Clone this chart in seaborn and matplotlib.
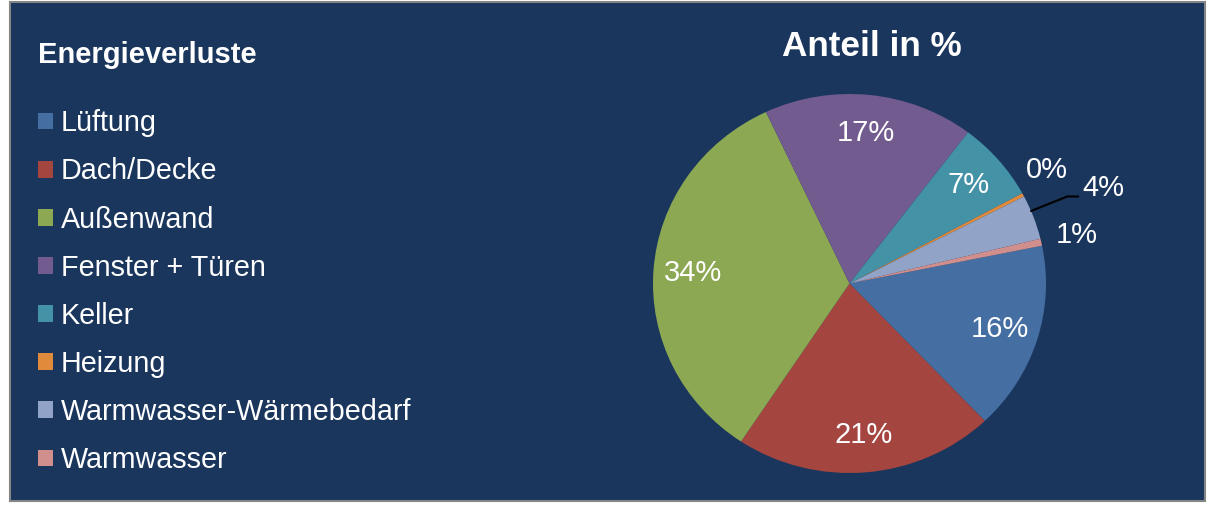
import matplotlib
matplotlib.use("Agg")
import matplotlib.pyplot as plt
from matplotlib.patches import Rectangle
import numpy as np
import seaborn as sns

# ---- data ----
categories = ["Lüftung", "Dach/Decke", "Außenwand", "Fenster + Türen", "Keller",
              "Heizung", "Warmwasser-Wärmebedarf", "Warmwasser"]
shares = [16.1, 21.4, 33.7, 17.3, 6.8, 0.3, 3.8, 0.6]
slice_colors = ["#456FA2", "#A4453F", "#8DA853", "#725B8E", "#4492A6",
                "#E08A3C", "#91A4C8", "#D08E8C"]
legend_title = "Energieverluste"
chart_title = "Anteil in %"

BG = "#1A365D"
W, H = 1208, 507

sns.set_theme(style="white")
plt.rcParams["font.family"] = ["Liberation Sans", "DejaVu Sans"]

fig = plt.figure(figsize=(W / 100, H / 100), dpi=100, facecolor="white")

# chart area with grey border
fig.patches.append(Rectangle((10 / W, 6 / H), (1205 - 10) / W, (505 - 6) / H,
                             transform=fig.transFigure, facecolor=BG,
                             edgecolor="#858585", linewidth=1.5, zorder=-5))

palette = sns.color_palette(slice_colors)

# pie axes
left, right, top, bottom = 653, 1046, 94, 473
ax = fig.add_axes([left / W, (H - bottom) / H, (right - left) / W, (bottom - top) / H])
ax.set_zorder(2)
ax.patch.set_alpha(0)
wedges, texts, autotexts = ax.pie(
    shares, colors=palette, startangle=11.5, counterclock=False,
    autopct="%.0f%%", pctdistance=0.8, radius=1.0,
    wedgeprops=dict(linewidth=0),
    textprops=dict(color="white", fontsize=21))
ax.set_aspect("auto")
ax.set_xlim(-1, 1)
ax.set_ylim(-1, 1)
ax.axis("off")

# small slices: put labels outside
for i in (5, 6, 7):
    w = wedges[i]
    t = autotexts[i]
    t.set_ha("center")
    if i == 5:
        a = np.deg2rad(w.theta2 + 2.5)
        t.set_position((1.17 * np.cos(a), 1.17 * np.sin(a)))
    elif i == 7:
        a = np.deg2rad((w.theta1 + w.theta2) / 2)
        t.set_position((1.185 * np.cos(a), 1.185 * np.sin(a)))
    else:
        a = np.deg2rad((w.theta1 + w.theta2) / 2 + 2)
        x, y = np.cos(a), np.sin(a)
        x1, y1 = 1.2 * x, 1.2 * y
        x2 = x1 + 0.056
        ax.plot([x, x1, x2], [y, y1, y1], color="black", lw=1.5, clip_on=False)
        t.set_position((x2 + 0.02, y1 + 0.046))
        t.set_ha("left")

# title
fig.text(872 / W, 1 - 47 / H, chart_title, ha="center", va="center",
         fontsize=25.3, fontweight="bold", color="white")

# legend
leg = fig.legend(wedges, categories, loc="upper left",
                 bbox_to_anchor=(38 / W, 1 - 41 / H), frameon=False,
                 title=legend_title, alignment="left",
                 title_fontproperties=dict(size=21, weight="bold"),
                 fontsize=20.7, handlelength=0.52, handleheight=0.52,
                 handletextpad=0.28, labelspacing=0.70, borderpad=0,
                 borderaxespad=0)
leg.get_title().set_color("white")
for txt in leg.get_texts():
    txt.set_color("white")
leg._legend_box.sep = 29

fig.savefig("out.png", dpi=100, facecolor="white")
